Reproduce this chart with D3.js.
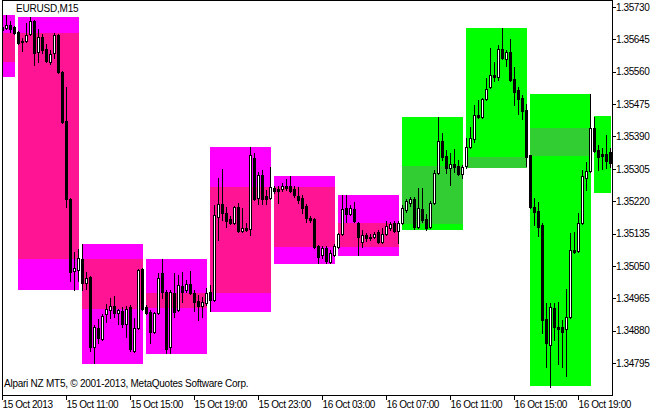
<!DOCTYPE html>
<html><head><meta charset="utf-8">
<script src="https://cdn.jsdelivr.net/npm/d3@7"></script>
<style>
body{margin:0;background:#fff}
svg{display:block}
text{font-family:"Liberation Sans",Arial,sans-serif;font-size:10px;letter-spacing:-0.4px;fill:#000}
text.title{letter-spacing:-0.2px}
text.copy{letter-spacing:-0.25px}
</style>
</head><body>
<svg id="c" width="660" height="412"></svg>
<script>
const title = "EURUSD,M15";
const copyright = "Alpari NZ MT5, \u00A9 2001-2013, MetaQuotes Software Corp.";
const timeTickBars = [0,16,32,48,64,80,96,112,128,144];
const timeTickLabels = ["15 Oct 2013","15 Oct 11:00","15 Oct 15:00","15 Oct 19:00","15 Oct 23:00","16 Oct 03:00","16 Oct 07:00","16 Oct 11:00","16 Oct 15:00","16 Oct 19:00"];
const priceTicks = [1.34795,1.34880,1.34965,1.35050,1.35135,1.35220,1.35305,1.35390,1.35475,1.35560,1.35645,1.35730];

const open = [
1.35677,1.35675,1.35683,1.35677,1.35664,1.35641,1.35641,1.35659,1.35693,1.35612,
1.35651,1.35620,1.35586,1.35609,1.35656,1.35559,1.35431,1.35226,1.35036,1.35039,
1.35068,1.35005,1.35021,1.34837,1.34887,1.34858,1.34924,1.34934,1.34945,1.34926,
1.34931,1.34897,1.34942,1.34826,1.34887,1.35042,1.34942,1.34929,1.34876,1.34926,
1.35031,1.34981,1.34837,1.34979,1.34934,1.34997,1.34987,1.35002,1.34979,1.34958,
1.34945,1.34952,1.34981,1.34960,1.35178,1.35213,1.35189,1.35173,1.35163,1.35205,
1.35142,1.35149,1.35147,1.35333,1.35228,1.35289,1.35234,1.35228,1.35255,1.35252,
1.35252,1.35260,1.35260,1.35252,1.35234,1.35228,1.35207,1.35176,1.35173,1.35102,
1.35079,1.35097,1.35060,1.35079,1.35100,1.35134,1.35202,1.35186,1.35199,1.35163,
1.35113,1.35131,1.35127,1.35126,1.35139,1.35113,1.35134,1.35149,1.35163,1.35142,
1.35163,1.35197,1.35215,1.35226,1.35152,1.35199,1.35173,1.35152,1.35215,1.35294,
1.35378,1.35339,1.35307,1.35318,1.35312,1.35291,1.35312,1.35362,1.35383,1.35446,
1.35441,1.35488,1.35520,1.35551,1.35546,1.35620,1.35593,1.35612,1.35541,1.35512,
1.35491,1.35459,1.35341,1.35205,1.35194,1.35157,1.34910,1.34842,1.34939,1.34889,
1.34889,1.34884,1.34916,1.35092,1.35089,1.35163,1.35281,1.35299,1.35412,1.35354,
1.35344,1.35344,1.35349];
const high = [
1.35680,1.35709,1.35693,1.35680,1.35667,1.35649,1.35688,1.35704,1.35696,1.35672,
1.35659,1.35633,1.35617,1.35662,1.35659,1.35562,1.35520,1.35228,1.35086,1.35094,
1.35107,1.35034,1.35024,1.34895,1.34910,1.34924,1.34950,1.34966,1.34971,1.34937,
1.34942,1.34945,1.34947,1.34913,1.35042,1.35044,1.34947,1.34934,1.34929,1.35031,
1.35068,1.34987,1.34987,1.35031,1.35026,1.35034,1.35013,1.35036,1.34987,1.34973,
1.34968,1.34992,1.35000,1.35210,1.35281,1.35304,1.35205,1.35181,1.35207,1.35215,
1.35202,1.35163,1.35362,1.35346,1.35297,1.35302,1.35249,1.35310,1.35260,1.35260,
1.35268,1.35278,1.35286,1.35260,1.35257,1.35236,1.35213,1.35181,1.35176,1.35105,
1.35102,1.35102,1.35092,1.35107,1.35136,1.35236,1.35236,1.35210,1.35218,1.35165,
1.35144,1.35136,1.35134,1.35139,1.35144,1.35149,1.35168,1.35165,1.35168,1.35168,
1.35210,1.35226,1.35231,1.35231,1.35255,1.35255,1.35186,1.35220,1.35302,1.35441,
1.35399,1.35354,1.35346,1.35357,1.35328,1.35315,1.35386,1.35415,1.35473,1.35486,
1.35491,1.35543,1.35622,1.35586,1.35630,1.35675,1.35617,1.35646,1.35572,1.35520,
1.35499,1.35475,1.35341,1.35228,1.35218,1.35163,1.34952,1.34952,1.34952,1.34955,
1.34908,1.34989,1.35136,1.35139,1.35189,1.35302,1.35323,1.35501,1.35441,1.35367,
1.35360,1.35394,1.35360];
const low = [
1.35667,1.35672,1.35664,1.35659,1.35633,1.35614,1.35638,1.35656,1.35578,1.35586,
1.35609,1.35586,1.35580,1.35596,1.35557,1.35425,1.35205,1.35010,1.34987,1.35010,
1.34987,1.34989,1.34826,1.34795,1.34847,1.34855,1.34903,1.34913,1.34916,1.34897,
1.34889,1.34863,1.34826,1.34824,1.34884,1.34934,1.34924,1.34847,1.34874,1.34924,
1.34966,1.34821,1.34821,1.34916,1.34931,1.34955,1.34981,1.34976,1.34931,1.34908,
1.34916,1.34947,1.34931,1.34958,1.35118,1.35170,1.35152,1.35160,1.35160,1.35139,
1.35139,1.35142,1.35131,1.35223,1.35213,1.35213,1.35213,1.35226,1.35241,1.35215,
1.35247,1.35249,1.35244,1.35231,1.35215,1.35189,1.35165,1.35165,1.35097,1.35058,
1.35071,1.35058,1.35058,1.35076,1.35097,1.35131,1.35165,1.35184,1.35165,1.35079,
1.35100,1.35115,1.35118,1.35123,1.35110,1.35110,1.35131,1.35144,1.35139,1.35110,
1.35160,1.35191,1.35207,1.35147,1.35149,1.35165,1.35144,1.35149,1.35213,1.35291,
1.35328,1.35294,1.35262,1.35297,1.35289,1.35281,1.35307,1.35360,1.35375,1.35438,
1.35438,1.35486,1.35517,1.35536,1.35538,1.35593,1.35575,1.35536,1.35473,1.35449,
1.35436,1.35312,1.35202,1.35157,1.35128,1.34874,1.34784,1.34732,1.34855,1.34792,
1.34784,1.34761,1.34913,1.35084,1.35086,1.35160,1.35249,1.35297,1.35349,1.35302,
1.35304,1.35307,1.35310];
const close = [
1.35670,1.35683,1.35672,1.35662,1.35635,1.35638,1.35656,1.35693,1.35609,1.35651,
1.35617,1.35588,1.35607,1.35656,1.35559,1.35428,1.35226,1.35034,1.35044,1.35071,
1.35005,1.35018,1.34837,1.34889,1.34860,1.34918,1.34937,1.34945,1.34926,1.34934,
1.34897,1.34937,1.34832,1.34887,1.35039,1.34937,1.34926,1.34876,1.34926,1.35018,
1.34981,1.34832,1.34981,1.34929,1.35000,1.34981,1.35002,1.34979,1.34955,1.34945,
1.34955,1.34979,1.34960,1.35184,1.35213,1.35189,1.35168,1.35163,1.35205,1.35142,
1.35149,1.35144,1.35341,1.35226,1.35289,1.35226,1.35226,1.35257,1.35247,1.35247,
1.35260,1.35255,1.35247,1.35236,1.35223,1.35202,1.35176,1.35170,1.35100,1.35073,
1.35097,1.35063,1.35084,1.35102,1.35134,1.35199,1.35186,1.35202,1.35168,1.35126,
1.35131,1.35123,1.35124,1.35134,1.35113,1.35134,1.35155,1.35160,1.35142,1.35163,
1.35202,1.35220,1.35226,1.35152,1.35202,1.35170,1.35149,1.35215,1.35294,1.35378,
1.35336,1.35307,1.35318,1.35310,1.35291,1.35310,1.35362,1.35386,1.35446,1.35441,
1.35488,1.35515,1.35551,1.35546,1.35620,1.35596,1.35612,1.35538,1.35507,1.35488,
1.35457,1.35336,1.35205,1.35191,1.35152,1.34908,1.34847,1.34942,1.34889,1.34884,
1.34876,1.34916,1.35092,1.35086,1.35163,1.35286,1.35299,1.35412,1.35352,1.35336,
1.35339,1.35325,1.35320];

// H4 range boxes
const boxStart = [-12,4,20,36,52,68,84,100,116,132,148];
const boxEnd   = [3,19,35,51,67,83,99,115,131,147,152];
const boxHigh  = [1.35709,1.35704,1.35107,1.35068,1.35362,1.35286,1.35236,1.35441,1.35675,1.35501,1.35444];
const boxLow   = [1.35549,1.34989,1.34795,1.34821,1.34931,1.35058,1.35079,1.35147,1.35310,1.34737,1.35244];
const boxBodyHigh = [1.35662,1.35662,1.35068,1.34979,1.35257,1.35257,1.35163,1.35312,1.35336,1.35412,null];
const boxBodyLow  = [1.35588,1.35071,1.34939,1.34942,1.34981,1.35102,1.35102,1.35163,1.35310,1.35341,null];
const boxTrend = ["down","down","down","down","down","down","down","up","up","up","up"];

const colors = {down:{outer:"#FF00FF",inner:"#FF1493"}, up:{outer:"#00FF00",inner:"#32CD32"}};

const svg = d3.select("#c");
const x = d3.scaleLinear().domain([0,152]).range([2,610]);
const y = d3.scaleLinear().domain([1.34795,1.35730]).range([363,7]);
const py = v => Math.round(y(v));

svg.append("defs").append("clipPath").attr("id","plot")
  .append("rect").attr("x",3).attr("y",1).attr("width",609).attr("height",394);

const plot = svg.append("g").attr("clip-path","url(#plot)").attr("shape-rendering","crispEdges");

const boxes = boxStart.map((s,k)=>({s,e:boxEnd[k],h:boxHigh[k],l:boxLow[k],bh:boxBodyHigh[k],bl:boxBodyLow[k],t:boxTrend[k]}));
plot.selectAll("rect.box").data(boxes).join("rect").attr("class","box")
  .attr("x",d=>x(d.s)).attr("width",d=>x(d.e)-x(d.s)+1)
  .attr("y",d=>py(d.h)).attr("height",d=>py(d.l)-py(d.h)+1)
  .attr("fill",d=>colors[d.t].outer);
plot.selectAll("rect.boxbody").data(boxes.filter(d=>d.bh!=null)).join("rect").attr("class","boxbody")
  .attr("x",d=>x(d.s)).attr("width",d=>x(d.e)-x(d.s)+1)
  .attr("y",d=>py(d.bh)).attr("height",d=>py(d.bl)-py(d.bh)+1)
  .attr("fill",d=>colors[d.t].inner);

const bars = d3.range(open.length).map(i=>({i,o:open[i],h:high[i],l:low[i],c:close[i]}));
plot.selectAll("rect.wick").data(bars).join("rect").attr("class","wick")
  .attr("x",d=>x(d.i)).attr("width",1)
  .attr("y",d=>py(d.h)).attr("height",d=>py(d.l)-py(d.h)+1).attr("fill","#000");
const bTop = d=>py(Math.max(d.o,d.c)), bBot = d=>py(Math.min(d.o,d.c));
plot.selectAll("rect.body").data(bars).join("rect").attr("class","body")
  .attr("x",d=>x(d.i)-1).attr("width",3)
  .attr("y",bTop).attr("height",d=>bBot(d)-bTop(d)+1).attr("fill","#000");
plot.selectAll("rect.hollow").data(bars.filter(d=>d.c>d.o && bBot(d)-bTop(d)>=2)).join("rect").attr("class","hollow")
  .attr("x",d=>x(d.i)).attr("width",1)
  .attr("y",d=>bTop(d)+1).attr("height",d=>bBot(d)-bTop(d)-1).attr("fill","#fff");

// axes
const yAxis = d3.axisRight(y).tickValues(priceTicks).tickSize(4).tickPadding(0).tickFormat(d3.format(".5f"));
const ya = svg.append("g").attr("transform","translate(612,0)").call(yAxis);
const xAxis = d3.axisBottom(x).tickValues(timeTickBars).tickSize(5).tickFormat((d,i)=>timeTickLabels[i]);
const xa = svg.append("g").attr("transform","translate(0,395)").call(xAxis);
[ya,xa].forEach(a=>{a.select(".domain").remove(); a.attr("font-family",null).attr("font-size",null);
  a.selectAll("line").attr("stroke","#000").attr("shape-rendering","crispEdges");});
xa.selectAll("text").attr("text-anchor","start").attr("x",0).attr("y",13).attr("dy",null);

// frame
const frame = svg.append("g").attr("stroke","#000").attr("stroke-width",1).attr("shape-rendering","crispEdges");
frame.append("line").attr("x1",2.5).attr("x2",2.5).attr("y1",0).attr("y2",396);
frame.append("line").attr("x1",612.5).attr("x2",612.5).attr("y1",0).attr("y2",396);
frame.append("line").attr("x1",2).attr("x2",613).attr("y1",395.5).attr("y2",395.5);
frame.append("line").attr("x1",2).attr("x2",613).attr("y1",0.5).attr("y2",0.5);

svg.append("text").attr("class","title").attr("x",16).attr("y",12).text(title);
svg.append("text").attr("class","copy").attr("x",4).attr("y",387).text(copyright);
</script>
</body></html>
